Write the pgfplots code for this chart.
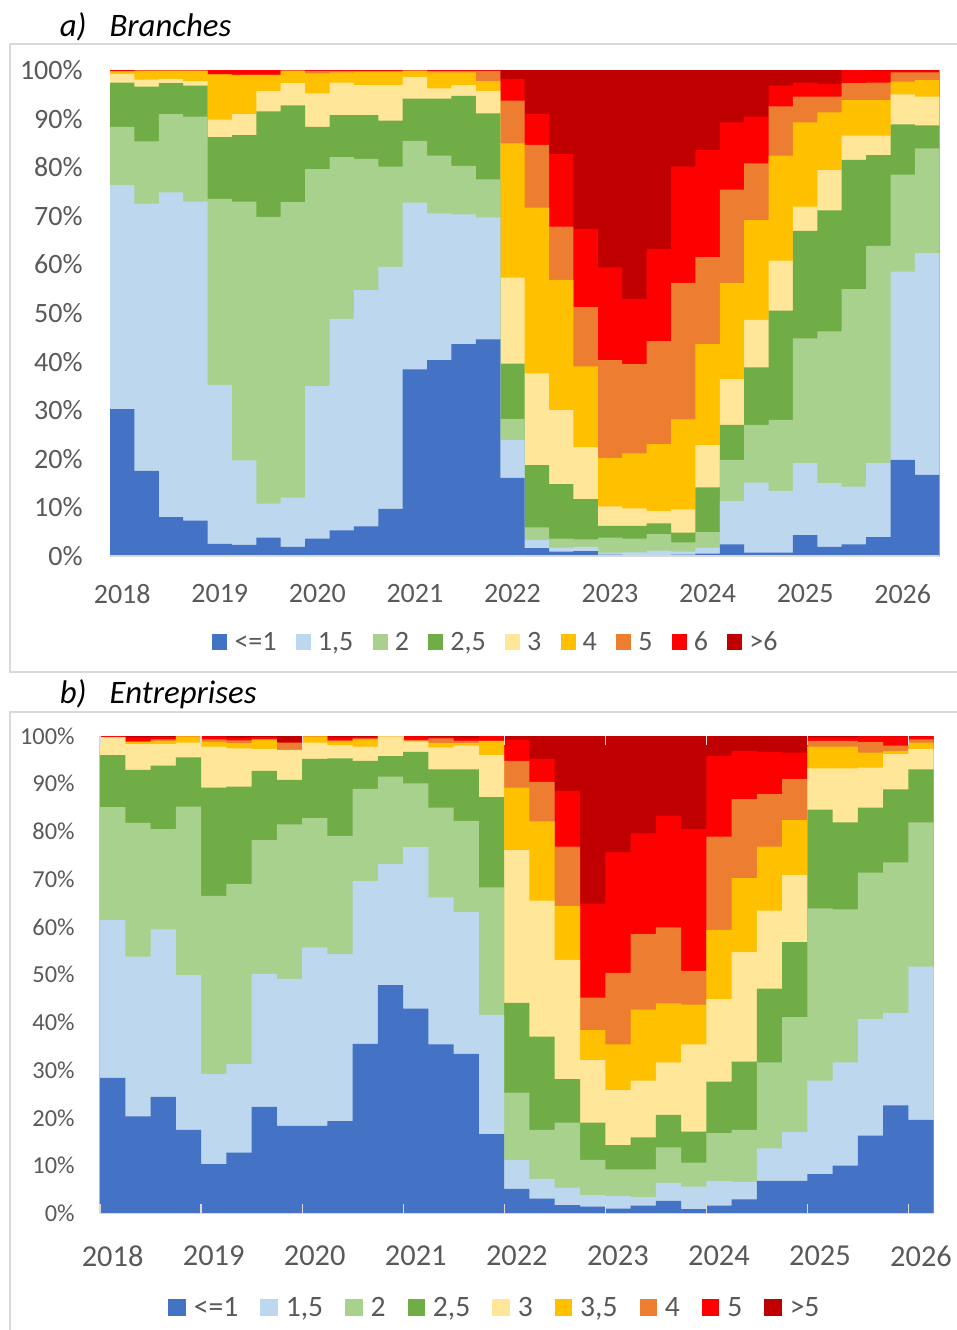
\documentclass[border=0pt]{standalone}
\usepackage{pgfplots}
\pgfplotsset{compat=1.18}
\usepackage{pgfplotstable}
\usepackage{fontspec}
\setmainfont{Carlito}

\definecolor{cA}{HTML}{4472C4}
\definecolor{cB}{HTML}{BDD7EE}
\definecolor{cC}{HTML}{A9D18E}
\definecolor{cD}{HTML}{70AD47}
\definecolor{cE}{HTML}{FFE699}
\definecolor{cF}{HTML}{FFC000}
\definecolor{cG}{HTML}{ED7D31}
\definecolor{cH}{HTML}{FF0000}
\definecolor{cI}{HTML}{C00000}
\definecolor{txt}{HTML}{595959}
\definecolor{frm}{HTML}{D9D9D9}

% cumulative share (top edge of each class, in %), one row per quarter;
% the last row only closes the final step
\pgfplotstableread{
x  a    b    c    d    e    f    g    h
0  30.2 76.3 88.3 97.4 99.2 99.7 99.8 99.9
1  17.5 72.5 85.3 96.6 98.0 99.8 99.9 99.95
2  8.0  74.8 90.9 97.3 98.2 99.8 99.9 99.95
3  7.3  72.9 90.4 96.8 97.7 99.8 99.9 99.95
4  2.5  35.2 73.5 86.2 89.8 99.1 99.1 100
5  2.3  19.7 72.9 86.6 90.9 99.0 99.0 100
6  3.8  10.8 69.8 91.5 95.7 99.0 99.0 100
7  1.9  12.0 72.8 92.7 97.3 99.8 99.9 99.95
8  3.6  35.0 79.6 88.3 95.2 99.3 99.8 99.95
9  5.3  48.8 82.1 90.7 97.4 99.5 99.8 99.95
10 6.1  54.7 81.7 90.7 96.9 99.6 99.8 99.95
11 9.7  59.5 80.1 89.6 96.9 99.6 99.8 99.95
12 38.4 72.7 85.4 94.1 98.6 99.8 99.9 99.95
13 40.3 70.5 82.4 94.1 96.2 99.5 99.8 99.95
14 43.6 70.3 80.3 94.7 96.9 99.5 99.8 99.95
15 44.6 69.7 77.5 91.1 95.7 97.7 99.8 99.95
16 16.1 23.9 28.2 39.6 57.3 84.9 93.7 98.1
17 1.6  3.3  5.9  18.7 37.6 71.7 84.6 90.9
18 0.9  1.7  3.6  14.8 30.0 56.8 67.8 82.7
19 1.0  1.9  3.4  11.7 22.4 39.0 51.2 67.3
20 0.3  0.7  3.8  6.2  10.2 20.2 40.3 59.4
21 0.2  0.75 3.6  6.2  9.8  21.1 39.5 52.9
22 0.2  1.1  4.5  6.7  9.3  23.0 44.2 63.2
23 0.3  0.9  2.8  4.8  9.6  28.1 56.2 80.1
24 0.5  1.7  4.9  14.1 22.8 43.6 61.5 83.5
25 2.4  11.3 19.8 27.0 36.4 56.2 75.4 89.2
26 0.7  15.1 27.0 38.8 48.6 69.1 80.8 90.4
27 0.7  13.4 28.0 50.5 60.8 82.4 92.5 96.8
28 4.3  19.1 44.8 66.9 71.9 89.2 94.5 97.4
29 1.9  15.0 46.2 71.1 79.4 91.3 94.5 97.1
30 2.4  14.3 54.9 81.5 86.5 93.8 97.3 100
31 3.9  19.1 63.8 82.5 86.5 93.8 97.4 99.9
32 19.8 58.5 78.5 88.8 95.0 97.6 99.5 99.9
33 16.7 62.3 83.9 88.6 94.5 97.9 99.5 99.9
34 16.7 62.3 83.9 88.6 94.5 97.9 99.5 99.9
}\branches

\pgfplotstableread{
x  a    b    c    d    e    f    g    h
0  28.4 61.5 85.1 96.0 99.7 99.75 99.8 100
1  20.3 53.8 81.8 92.9 98.3 98.7 98.9 99.7
2  24.4 59.5 80.5 93.8 98.3 99.0 99.3 99.8
3  17.5 49.9 85.2 95.5 98.6 99.9 99.9 99.95
4  10.3 29.2 66.5 89.2 97.8 98.8 99.3 99.9
5  12.7 31.3 69.0 89.4 97.4 98.5 99.1 99.6
6  22.3 50.1 78.2 92.7 97.3 99.2 99.4 99.8
7  18.3 49.1 81.5 90.8 97.1 97.1 98.6 98.6
8  18.3 55.7 82.8 95.2 98.6 99.9 99.9 99.95
9  19.3 54.3 79.1 95.3 98.1 98.9 99.1 99.7
10 35.5 69.6 88.9 94.8 97.8 99.3 99.5 99.8
11 47.8 73.2 91.5 95.8 99.9 99.9 99.9 99.95
12 42.9 76.7 90.1 96.7 98.8 99.0 99.2 99.9
13 35.4 66.2 85.0 93.0 97.6 98.5 99.5 99.8
14 33.4 63.1 82.2 93.0 98.0 98.5 99.0 99.5
15 16.6 41.6 68.3 87.2 96.0 99.0 99.0 100
16 5.1  11.2 25.3 44.1 76.1 89.2 94.8 99.2
17 3.1  7.2  17.5 37.0 65.5 82.1 90.4 95.2
18 1.7  5.4  19.0 28.1 53.1 64.4 76.8 88.5
19 1.4  3.8  11.2 19.0 32.1 38.4 45.2 64.9
20 1.0  3.6  9.2  14.3 25.8 35.4 50.4 75.6
21 1.6  3.4  9.2  15.9 27.8 42.7 58.5 79.6
22 2.6  6.4  13.8 20.6 31.6 44.0 59.9 83.3
23 0.9  5.6  10.6 17.1 35.4 43.7 50.8 80.5
24 1.6  6.8  16.8 27.6 44.9 59.4 78.9 95.8
25 2.9  6.6  17.5 31.8 54.7 70.2 86.8 96.9
26 6.8  13.6 31.6 47.1 63.4 76.8 87.8 96.7
27 6.8  17.0 41.1 56.8 70.9 82.4 91.0 96.5
28 8.2  27.8 63.9 84.6 93.2 97.8 99.0 99.7
29 10.0 31.6 63.7 81.9 93.2 97.8 99.0 99.7
30 16.3 40.7 71.4 85.0 93.4 96.5 98.7 99.9
31 22.6 42.0 73.5 88.8 96.2 96.9 98.0 99.9
32 19.6 51.7 81.9 93.0 97.3 98.6 99.3 99.9
33 19.6 51.7 81.9 93.0 97.3 98.6 99.3 99.9
}\entreprises

\pgfplotsset{
  band/.style={const plot mark left, draw=none, fill=#1, forget plot},
  shares/.style={
    scale only axis, anchor=north west, axis on top,
    ymin=0, ymax=100, xmin=0,
    axis line style={draw=none},
    ytick={0,10,...,100},
    yticklabels={0\%,10\%,20\%,30\%,40\%,50\%,60\%,70\%,80\%,90\%,100\%},
    ytick style={draw=none},
    tick label style={text=txt},
    xticklabels={2018,2019,2020,2021,2022,2023,2024,2025,2026},
    legend columns=-1,
  },
}

\begin{document}
\begin{tikzpicture}
\path[use as bounding box] (0,0) rectangle (478.5pt,-665pt);

% chart frames
\draw[frm, line width=0.6pt] (500pt,-22pt) -- (5pt,-22pt) -- (5pt,-336pt) -- (500pt,-336pt);
\draw[frm, line width=0.6pt] (500pt,-356pt) -- (5pt,-356pt) -- (5pt,-700pt);

\node[anchor=base west, inner sep=0pt, font=\fontsize{16.4}{18}\selectfont\itshape]
  at (29.7pt,-18pt) {a)\hspace{11.5pt}Branches};
\node[anchor=base west, inner sep=0pt, font=\fontsize{16.4}{18}\selectfont\itshape]
  at (29.7pt,-351.5pt) {b)\hspace{11.5pt}Entreprises};

\begin{axis}[shares,
  at={(55pt,-35pt)}, width=414.65pt, height=243pt, xmax=34,
  xtick={0.5,4.5,...,32.5}, xtick style={draw=none},
  yticklabel style={anchor=east, inner sep=0pt, xshift=-13.5pt, font=\fontsize{14}{16}\selectfont},
  xticklabel style={anchor=north, inner sep=0pt, yshift=-14.2pt, font=\fontsize{14}{16}\selectfont},
  legend image code/.code={\fill[#1] (0pt,0.3pt) rectangle (7.5pt,8.3pt);},
  legend style={draw=none, fill=none, at={(0.4642,-0.179)}, anchor=center,
    font=\fontsize{14}{16}\selectfont, text=txt, nodes={inner sep=0pt},
    cells={anchor=base west},
    /tikz/every odd column/.append style={column sep=3.6pt},
    /tikz/every even column/.append style={column sep=9.6pt}},
]
\addlegendimage{fill=cA, draw=none}\addlegendentry{<=1}
\addlegendimage{fill=cB, draw=none}\addlegendentry{1,5}
\addlegendimage{fill=cC, draw=none}\addlegendentry{2}
\addlegendimage{fill=cD, draw=none}\addlegendentry{2,5}
\addlegendimage{fill=cE, draw=none}\addlegendentry{3}
\addlegendimage{fill=cF, draw=none}\addlegendentry{4}
\addlegendimage{fill=cG, draw=none}\addlegendentry{5}
\addlegendimage{fill=cH, draw=none}\addlegendentry{6}
\addlegendimage{fill=cI, draw=none}\addlegendentry{>6}
\addplot[band=cI] coordinates {(0,100) (34,100)} \closedcycle;
\addplot[band=cH] table[y=h] {\branches} \closedcycle;
\addplot[band=cG] table[y=g] {\branches} \closedcycle;
\addplot[band=cF] table[y=f] {\branches} \closedcycle;
\addplot[band=cE] table[y=e] {\branches} \closedcycle;
\addplot[band=cD] table[y=d] {\branches} \closedcycle;
\addplot[band=cC] table[y=c] {\branches} \closedcycle;
\addplot[band=cB] table[y=b] {\branches} \closedcycle;
\addplot[band=cA] table[y=a] {\branches} \closedcycle;
\draw[frm, line width=0.6pt] (axis cs:0,0) -- (axis cs:34,0);
\end{axis}

\begin{axis}[shares,
  at={(50pt,-368pt)}, width=416.85pt, height=238.65pt, xmax=33,
  xtick={0,4,...,32}, tick align=inside, major tick length=4.5pt,
  xtick style={draw=frm, line width=0.6pt},
  yticklabel style={anchor=east, inner sep=0pt, xshift=-12.5pt, font=\fontsize{12.2}{14}\selectfont},
  xticklabel style={anchor=north, inner sep=0pt, xshift=6.3pt, yshift=-16pt, font=\fontsize{15.2}{17}\selectfont},
  legend image code/.code={\fill[#1] (0pt,0.3pt) rectangle (8.7pt,8.6pt);},
  legend style={draw=none, fill=none, at={(0.4726,-0.1984)}, anchor=center,
    font=\fontsize{14.8}{17}\selectfont, text=txt, nodes={inner sep=0pt},
    cells={anchor=base west},
    /tikz/every odd column/.append style={column sep=4pt},
    /tikz/every even column/.append style={column sep=11pt}},
]
\addlegendimage{fill=cA, draw=none}\addlegendentry{<=1}
\addlegendimage{fill=cB, draw=none}\addlegendentry{1,5}
\addlegendimage{fill=cC, draw=none}\addlegendentry{2}
\addlegendimage{fill=cD, draw=none}\addlegendentry{2,5}
\addlegendimage{fill=cE, draw=none}\addlegendentry{3}
\addlegendimage{fill=cF, draw=none}\addlegendentry{3,5}
\addlegendimage{fill=cG, draw=none}\addlegendentry{4}
\addlegendimage{fill=cH, draw=none}\addlegendentry{5}
\addlegendimage{fill=cI, draw=none}\addlegendentry{>5}
\addplot[band=cI] coordinates {(0,100) (33,100)} \closedcycle;
\addplot[band=cH] table[y=h] {\entreprises} \closedcycle;
\addplot[band=cG] table[y=g] {\entreprises} \closedcycle;
\addplot[band=cF] table[y=f] {\entreprises} \closedcycle;
\addplot[band=cE] table[y=e] {\entreprises} \closedcycle;
\addplot[band=cD] table[y=d] {\entreprises} \closedcycle;
\addplot[band=cC] table[y=c] {\entreprises} \closedcycle;
\addplot[band=cB] table[y=b] {\entreprises} \closedcycle;
\addplot[band=cA] table[y=a] {\entreprises} \closedcycle;
\draw[frm, line width=0.6pt] (axis cs:0,0) -- (axis cs:33,0);
\end{axis}
\end{tikzpicture}
\end{document}
